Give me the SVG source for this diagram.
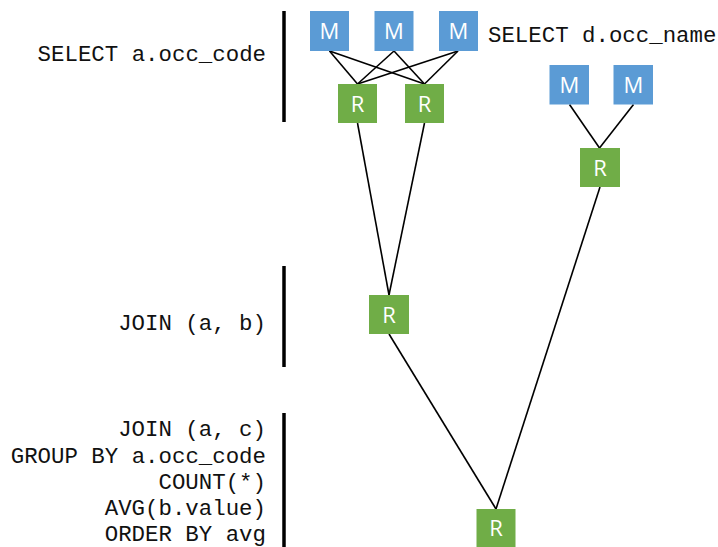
<svg xmlns="http://www.w3.org/2000/svg" width="718" height="547" viewBox="0 0 718 547">
<style>
.m{fill:#5B9BD5}
.r{fill:#70AD47}
.lb{fill:#fff;font-family:"Open Sans","Noto Sans",sans-serif;font-size:22px;text-anchor:middle}
.code{fill:#111;font-family:"Liberation Mono","Courier New",monospace;font-size:22.4px}
.e{text-anchor:end}
.bar{stroke:#000;stroke-width:3.5}
.c{stroke:#000;stroke-width:1.6;fill:none}
</style>
<rect width="718" height="547" fill="#fff"/>
<g id="labels">
<text class="code e" x="266" y="61">SELECT a.occ_code</text>
<text class="code" x="488" y="42">SELECT d.occ_name</text>
<text class="code e" x="266" y="330">JOIN (a, b)</text>
<text class="code e" x="266" y="436">JOIN (a, c)</text>
<text class="code e" x="266" y="462.5">GROUP BY a.occ_code</text>
<text class="code e" x="266" y="489">COUNT(*)</text>
<text class="code e" x="266" y="515">AVG(b.value)</text>
<text class="code e" x="266" y="540.5">ORDER BY avg</text>
</g>
<g id="bars">
<line class="bar" x1="284" y1="11" x2="284" y2="122"/>
<line class="bar" x1="284" y1="266" x2="284" y2="367"/>
<line class="bar" x1="284" y1="413" x2="284" y2="547"/>
</g>
<g id="connectors">
<line class="c" x1="329.5" y1="51" x2="357.5" y2="84"/>
<line class="c" x1="329.5" y1="51" x2="424.5" y2="84"/>
<line class="c" x1="394" y1="51" x2="357.5" y2="84"/>
<line class="c" x1="394" y1="51" x2="424.5" y2="84"/>
<line class="c" x1="458" y1="51" x2="357.5" y2="84"/>
<line class="c" x1="458" y1="51" x2="424.5" y2="84"/>
<line class="c" x1="569.5" y1="104.5" x2="599.5" y2="148"/>
<line class="c" x1="633.5" y1="104.5" x2="599.5" y2="148"/>
<line class="c" x1="357.5" y1="123" x2="389" y2="295"/>
<line class="c" x1="424.5" y1="123" x2="389" y2="295"/>
<line class="c" x1="389" y1="334" x2="496" y2="509"/>
<line class="c" x1="600" y1="187" x2="496" y2="509"/>
</g>
<g id="m1"><rect class="m" x="310" y="11" width="39" height="40"/><text class="lb" x="329.5" y="39">M</text></g>
<g id="m2"><rect class="m" x="374.5" y="11" width="39" height="40"/><text class="lb" x="394" y="39">M</text></g>
<g id="m3"><rect class="m" x="439" y="11" width="39" height="40"/><text class="lb" x="458.5" y="39">M</text></g>
<g id="r1"><rect class="r" x="338" y="84" width="39" height="39"/><text class="lb" x="357.5" y="111.5">R</text></g>
<g id="r2"><rect class="r" x="405" y="84" width="39" height="39"/><text class="lb" x="424.5" y="111.5">R</text></g>
<g id="m4"><rect class="m" x="549.5" y="65" width="39.5" height="39.5"/><text class="lb" x="569.3" y="92.5">M</text></g>
<g id="m5"><rect class="m" x="613.5" y="65" width="39.5" height="39.5"/><text class="lb" x="633.3" y="92.5">M</text></g>
<g id="r3"><rect class="r" x="580" y="148" width="40" height="39"/><text class="lb" x="600" y="175.5">R</text></g>
<g id="r4"><rect class="r" x="369" y="295" width="40" height="39"/><text class="lb" x="389" y="322.5">R</text></g>
<g id="r5"><rect class="r" x="476.5" y="509" width="39" height="38"/><text class="lb" x="496" y="536">R</text></g>
</svg>
